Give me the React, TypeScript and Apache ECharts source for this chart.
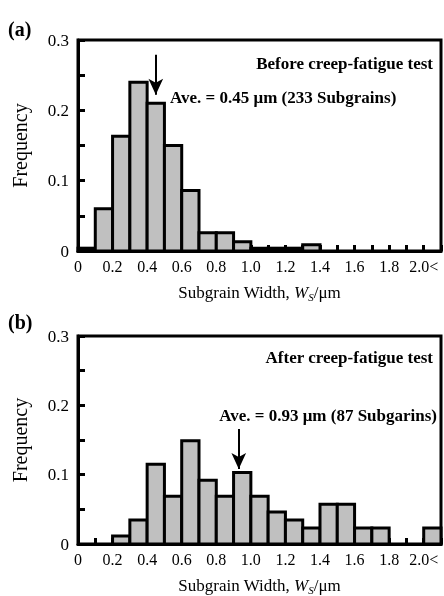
import React, { useEffect, useRef } from "react";
import * as echarts from "echarts";

const binStarts = [0, 0.1, 0.2, 0.3, 0.4, 0.5, 0.6, 0.7, 0.8, 0.9, 1.0, 1.1, 1.2, 1.3, 1.4, 1.5, 1.6, 1.7, 1.8, 1.9, 2.0];
const beforeFreq = [0.004, 0.06, 0.163, 0.24, 0.21, 0.15, 0.086, 0.026, 0.026, 0.013, 0.004, 0.004, 0.004, 0.009, 0, 0, 0, 0, 0, 0, 0];
const afterFreq = [0, 0, 0.0115, 0.0345, 0.115, 0.069, 0.149, 0.092, 0.069, 0.103, 0.069, 0.046, 0.0345, 0.023, 0.0575, 0.0575, 0.023, 0.023, 0, 0, 0.023];
const binWidth = 0.1;
const aveBefore = 0.45;
const aveAfter = 0.93;
const arrowBefore = [0.279, 0.222];
const arrowAfter = [0.166, 0.108];
const titleBefore = "Before creep-fatigue test";
const titleAfter = "After creep-fatigue test";
const aveBeforeText = "Ave. = 0.45 μm (233 Subgrains)";
const aveAfterText = "Ave. = 0.93 μm (87 Subgarins)";

const FONT = "'Liberation Serif', 'DejaVu Serif', serif";

function xLabel(v: number) {
  const k = Math.round(v * 10);
  if (k % 2 !== 0 || k > 20) return "";
  if (k === 0) return "0";
  if (k === 20) return "2.0<";
  return (k / 10).toFixed(1);
}
function yLabel(v: number) {
  const k = Math.round(v * 100);
  if (k % 10 !== 0) return "";
  if (k === 0) return "0";
  return (k / 100).toFixed(1);
}

export default function App() {
  const ref = useRef<HTMLDivElement>(null);
  useEffect(() => {
    if (!ref.current) return;
    const chart = echarts.init(ref.current, undefined, { renderer: "svg" });
    const grids = [
      { left: 78, top: 40, width: 364, height: 211 },
      { left: 78, top: 336, width: 364, height: 212 },
    ];
    const mkX = (gi: number) => ({
      type: "value",
      gridIndex: gi,
      min: 0,
      max: 2.1,
      interval: 0.1,
      name: "{a|Subgrain Width, }{i|W}{s|S}{a|/μm}",
      nameLocation: "middle",
      nameGap: 31,
      nameTextStyle: {
        rich: {
          a: { fontFamily: FONT, fontSize: 17, color: "#000", lineHeight: 20, verticalAlign: "middle" },
          i: { fontFamily: FONT, fontSize: 17, color: "#000", fontStyle: "italic", lineHeight: 20, verticalAlign: "middle" },
          s: { fontFamily: FONT, fontSize: 11, color: "#000", fontStyle: "italic", lineHeight: 20, verticalAlign: "bottom" },
        },
      },
      axisLine: { show: true, lineStyle: { color: "#000", width: 3 } },
      axisTick: { show: true, inside: true, length: 6, lineStyle: { color: "#000", width: 3 } },
      axisLabel: { formatter: xLabel, fontFamily: FONT, fontSize: 16, color: "#000", margin: 7, showMaxLabel: true },
      splitLine: { show: false },
    });
    const mkY = (gi: number) => ({
      type: "value",
      gridIndex: gi,
      min: 0,
      max: 0.3,
      interval: 0.05,
      name: "Frequency",
      nameLocation: "middle",
      nameRotate: 90,
      nameGap: 48,
      nameTextStyle: { fontFamily: FONT, fontSize: 20, color: "#000" },
      axisLine: { show: true, lineStyle: { color: "#000", width: 3 } },
      axisTick: { show: true, inside: true, length: 7, lineStyle: { color: "#000", width: 3 } },
      axisLabel: { formatter: yLabel, fontFamily: FONT, fontSize: 17, color: "#000", margin: 9 },
      splitLine: { show: false },
    });
    const renderItem = (params: any, api: any) => {
      const x0 = api.value(0);
      const v = api.value(1);
      if (!v) return null;
      const p0 = api.coord([x0, v]);
      const p1 = api.coord([x0 + binWidth, 0]);
      return {
        type: "rect",
        shape: { x: p0[0], y: p0[1], width: p1[0] - p0[0], height: p1[1] - p0[1] },
        style: { fill: "#c0c0c0", stroke: "#000", lineWidth: 3 },
      };
    };
    const mkSeries = (gi: number, freq: number[], ave: number, arrow: number[]) => ({
      type: "custom",
      xAxisIndex: gi,
      yAxisIndex: gi,
      renderItem,
      encode: { x: 0, y: 1 },
      data: binStarts.map((b, i) => [b, freq[i]]),
      z: 2,
      markLine: {
        silent: true,
        symbol: ["none", "arrow"],
        symbolSize: [11, 16],
        label: { show: false },
        lineStyle: { color: "#000", width: 2, type: "solid" },
        data: [[{ coord: [ave, arrow[0]] }, { coord: [ave, arrow[1]] }]],
      },
    });
    const txt = (x: number, y: number, text: string, size: number, align: string, bold = true) => ({
      type: "text",
      x,
      y,
      style: {
        text,
        fontFamily: FONT,
        fontSize: size,
        fontWeight: bold ? "bold" : "normal",
        fill: "#000",
        align,
        verticalAlign: "middle",
      },
    });
    chart.setOption({
      animation: false,
      grid: grids.map((g) => ({ ...g, show: true, borderColor: "#000", borderWidth: 3, backgroundColor: "transparent" })),
      xAxis: [mkX(0), mkX(1)],
      yAxis: [mkY(0), mkY(1)],
      series: [mkSeries(0, beforeFreq, aveBefore, arrowBefore), mkSeries(1, afterFreq, aveAfter, arrowAfter)],
      graphic: [
        txt(8, 29, "(a)", 20, "left"),
        txt(8, 322, "(b)", 20, "left"),
        txt(433, 63, titleBefore, 17, "right"),
        txt(170, 97, aveBeforeText, 17, "left"),
        txt(433, 357, titleAfter, 17, "right"),
        txt(437, 415, aveAfterText, 17, "right"),
      ],
    });
    return () => chart.dispose();
  }, []);
  return <div ref={ref} style={{ position: "fixed", left: 0, top: 0, width: 444, height: 596 }} />;
}
